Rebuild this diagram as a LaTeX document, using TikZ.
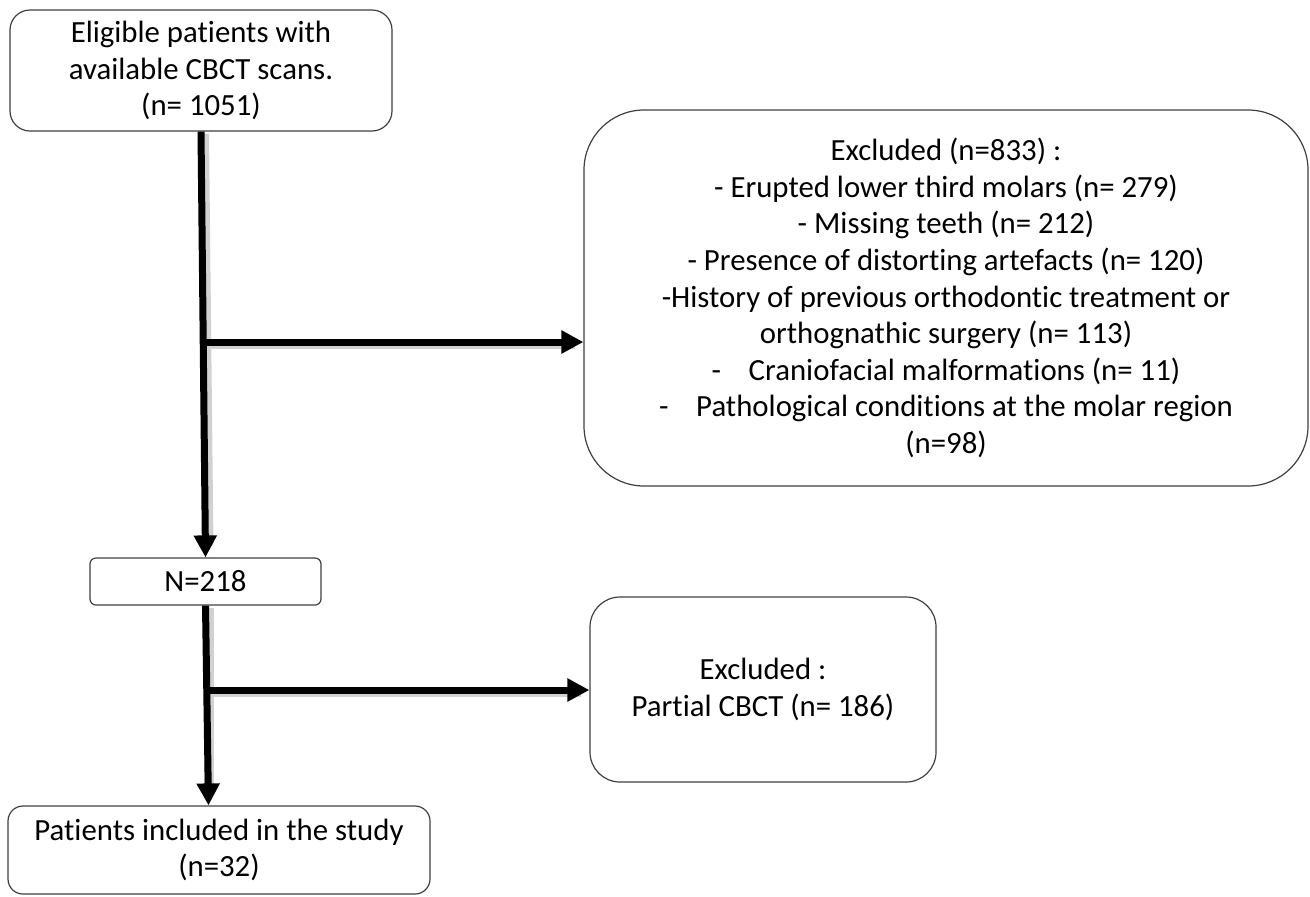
\documentclass[tikz,border=0pt]{standalone}
\usepackage{fontspec}
\setmainfont[Ligatures=NoCommon]{Carlito}
\usetikzlibrary{arrows.meta,calc}
\tikzset{
  box/.style={draw=black!75, line width=0.6pt, fill=white, align=center, inner sep=0pt,
    font=\fontsize{15.4pt}{18.3pt}\selectfont},
  flow/.style={line width=3.5pt, -{Triangle[length=11pt,width=11pt]}},
  shadowline/.style={line width=5pt, black!18, shorten >=2pt},
}
\begin{document}
\begin{tikzpicture}[x=0.5pt,y=-0.5pt]
\useasboundingbox (0,0) rectangle (1310,896);
\node[box, minimum width=191pt, minimum height=60.5pt, rounded corners=10pt] (top) at (201,70.5)
  {Eligible patients with\\available CBCT scans.\\(n= 1051)};
\node[box, minimum width=362pt, minimum height=188pt, rounded corners=30pt] (excl) at (946,298)
  {Excluded (n=833) :\\- Erupted lower third molars (n= 279)\\- Missing teeth (n= 212)\\- Presence of distorting artefacts (n= 120)\\-History of previous orthodontic treatment or\\orthognathic surgery (n= 113)\\-\hspace{0.9em}Craniofacial malformations (n= 11)\\-\hspace{0.9em}Pathological conditions at the molar region\\(n=98)};
\node[box, minimum width=115.5pt, minimum height=23.5pt, rounded corners=3pt] (mid) at (205.5,581.5) {N=218};
\node[box, minimum width=173pt, minimum height=92.5pt, rounded corners=15pt] (part) at (763,689.5)
  {Excluded :\\Partial CBCT (n= 186)};
\node[box, minimum width=211pt, minimum height=44pt, rounded corners=7.5pt] (incl) at (219,850)
  {Patients included in the study\\(n=32)};
\coordinate (b1) at (203,342);
\coordinate (b2) at (207,690);
% shadows
\draw[shadowline] ([xshift=1.5pt,yshift=-1pt]top.south) -- ([xshift=1.5pt,yshift=4pt]mid.north);
\draw[shadowline] ([xshift=1.5pt,yshift=-1pt]b1) -- ([xshift=-2pt,yshift=-1pt]b1 -| excl.west);
\draw[shadowline] ([xshift=1.5pt,yshift=-1pt]mid.south) -- ([xshift=1.5pt,yshift=4pt]mid.south |- incl.north);
\draw[shadowline] ([xshift=1.5pt,yshift=-1pt]b2) -- ([xshift=-2pt,yshift=-1pt]b2 -| part.west);
% arrows
\draw[flow] (top.south) -- (mid.north);
\draw[flow] (b1) -- (b1 -| excl.west);
\draw[flow] (mid.south) -- ([xshift=1.5pt]mid.south |- incl.north);
\draw[flow] (b2) -- (b2 -| part.west);
\end{tikzpicture}
\end{document}
